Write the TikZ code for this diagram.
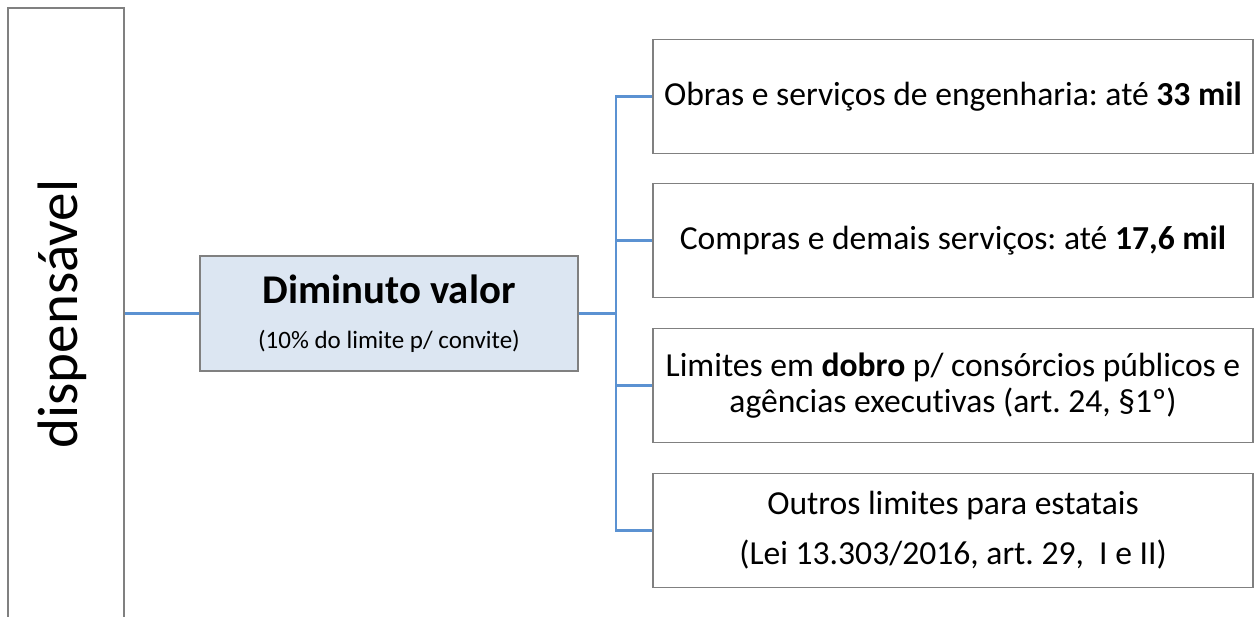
\documentclass[tikz,border=0pt]{standalone}
\usepackage{fontspec}
\setmainfont{Carlito}[Ligatures=NoCommon]
\definecolor{conncol}{RGB}{91,146,210}
\definecolor{edgecol}{RGB}{128,128,128}
\definecolor{fillcol}{RGB}{220,230,242}
\tikzset{
  rbox/.style={draw=edgecol, line width=1.8pt, minimum width=600pt, minimum height=114pt,
    inner sep=0pt, align=center, font=\fontsize{33.6}{36}\selectfont},
  conn/.style={draw=conncol, line width=2.2pt},
}
\frenchspacing
\begin{document}
\begin{tikzpicture}[x=1pt,y=-1pt]
\useasboundingbox (0,0) rectangle (1255,616);
\clip (0,0) rectangle (1255,616);
% left box
\node[draw=edgecol, line width=1.8pt, minimum width=116pt, minimum height=612pt, inner sep=0pt] (L) at (66,314) {};
\node[rotate=90, font=\fontsize{57}{62}\selectfont, inner sep=0pt] (Lt) at (62,314) {dispensável};
% middle box
\node[draw=edgecol, line width=1.8pt, fill=fillcol, minimum width=378pt, minimum height=115pt, inner sep=0pt] (D) at (389,313.5) {};
\node[anchor=base, inner sep=0pt, font=\fontsize{40.8}{45}\selectfont\bfseries] (Dt1) at (389,303) {Diminuto valor};
\node[anchor=base, inner sep=0pt, font=\fontsize{25}{30}\selectfont] (Dt2) at (389,348) {(10\% do limite p/ convite)};
% right boxes
\node[rbox] (R1) at (953,96.5) {Obras e serviços de engenharia: até \textbf{33 mil}};
\node[rbox] (R2) at (953,240.5) {Compras e demais serviços: até \textbf{17,6 mil}};
\node[rbox] (R3) at (953,385.5) {Limites em \textbf{dobro} p/ consórcios públicos e\\agências executivas (art. 24, §1º)};
\node[rbox] (R4) at (953,530.5) {Outros limites para estatais\\[14pt](Lei 13.303/2016, art. 29,\ \ I e II)};
% connectors
\coordinate (bus) at (616,313.5);
\draw[conn] (L.east |- D.west) -- (D.west);
\draw[conn] (D.east) -- (bus);
\draw[conn] (R1.west) -- (R1.west -| bus) -- (R4.west -| bus) -- (R4.west);
\draw[conn] (R2.west) -- (R2.west -| bus);
\draw[conn] (R3.west) -- (R3.west -| bus);
\end{tikzpicture}
\end{document}
